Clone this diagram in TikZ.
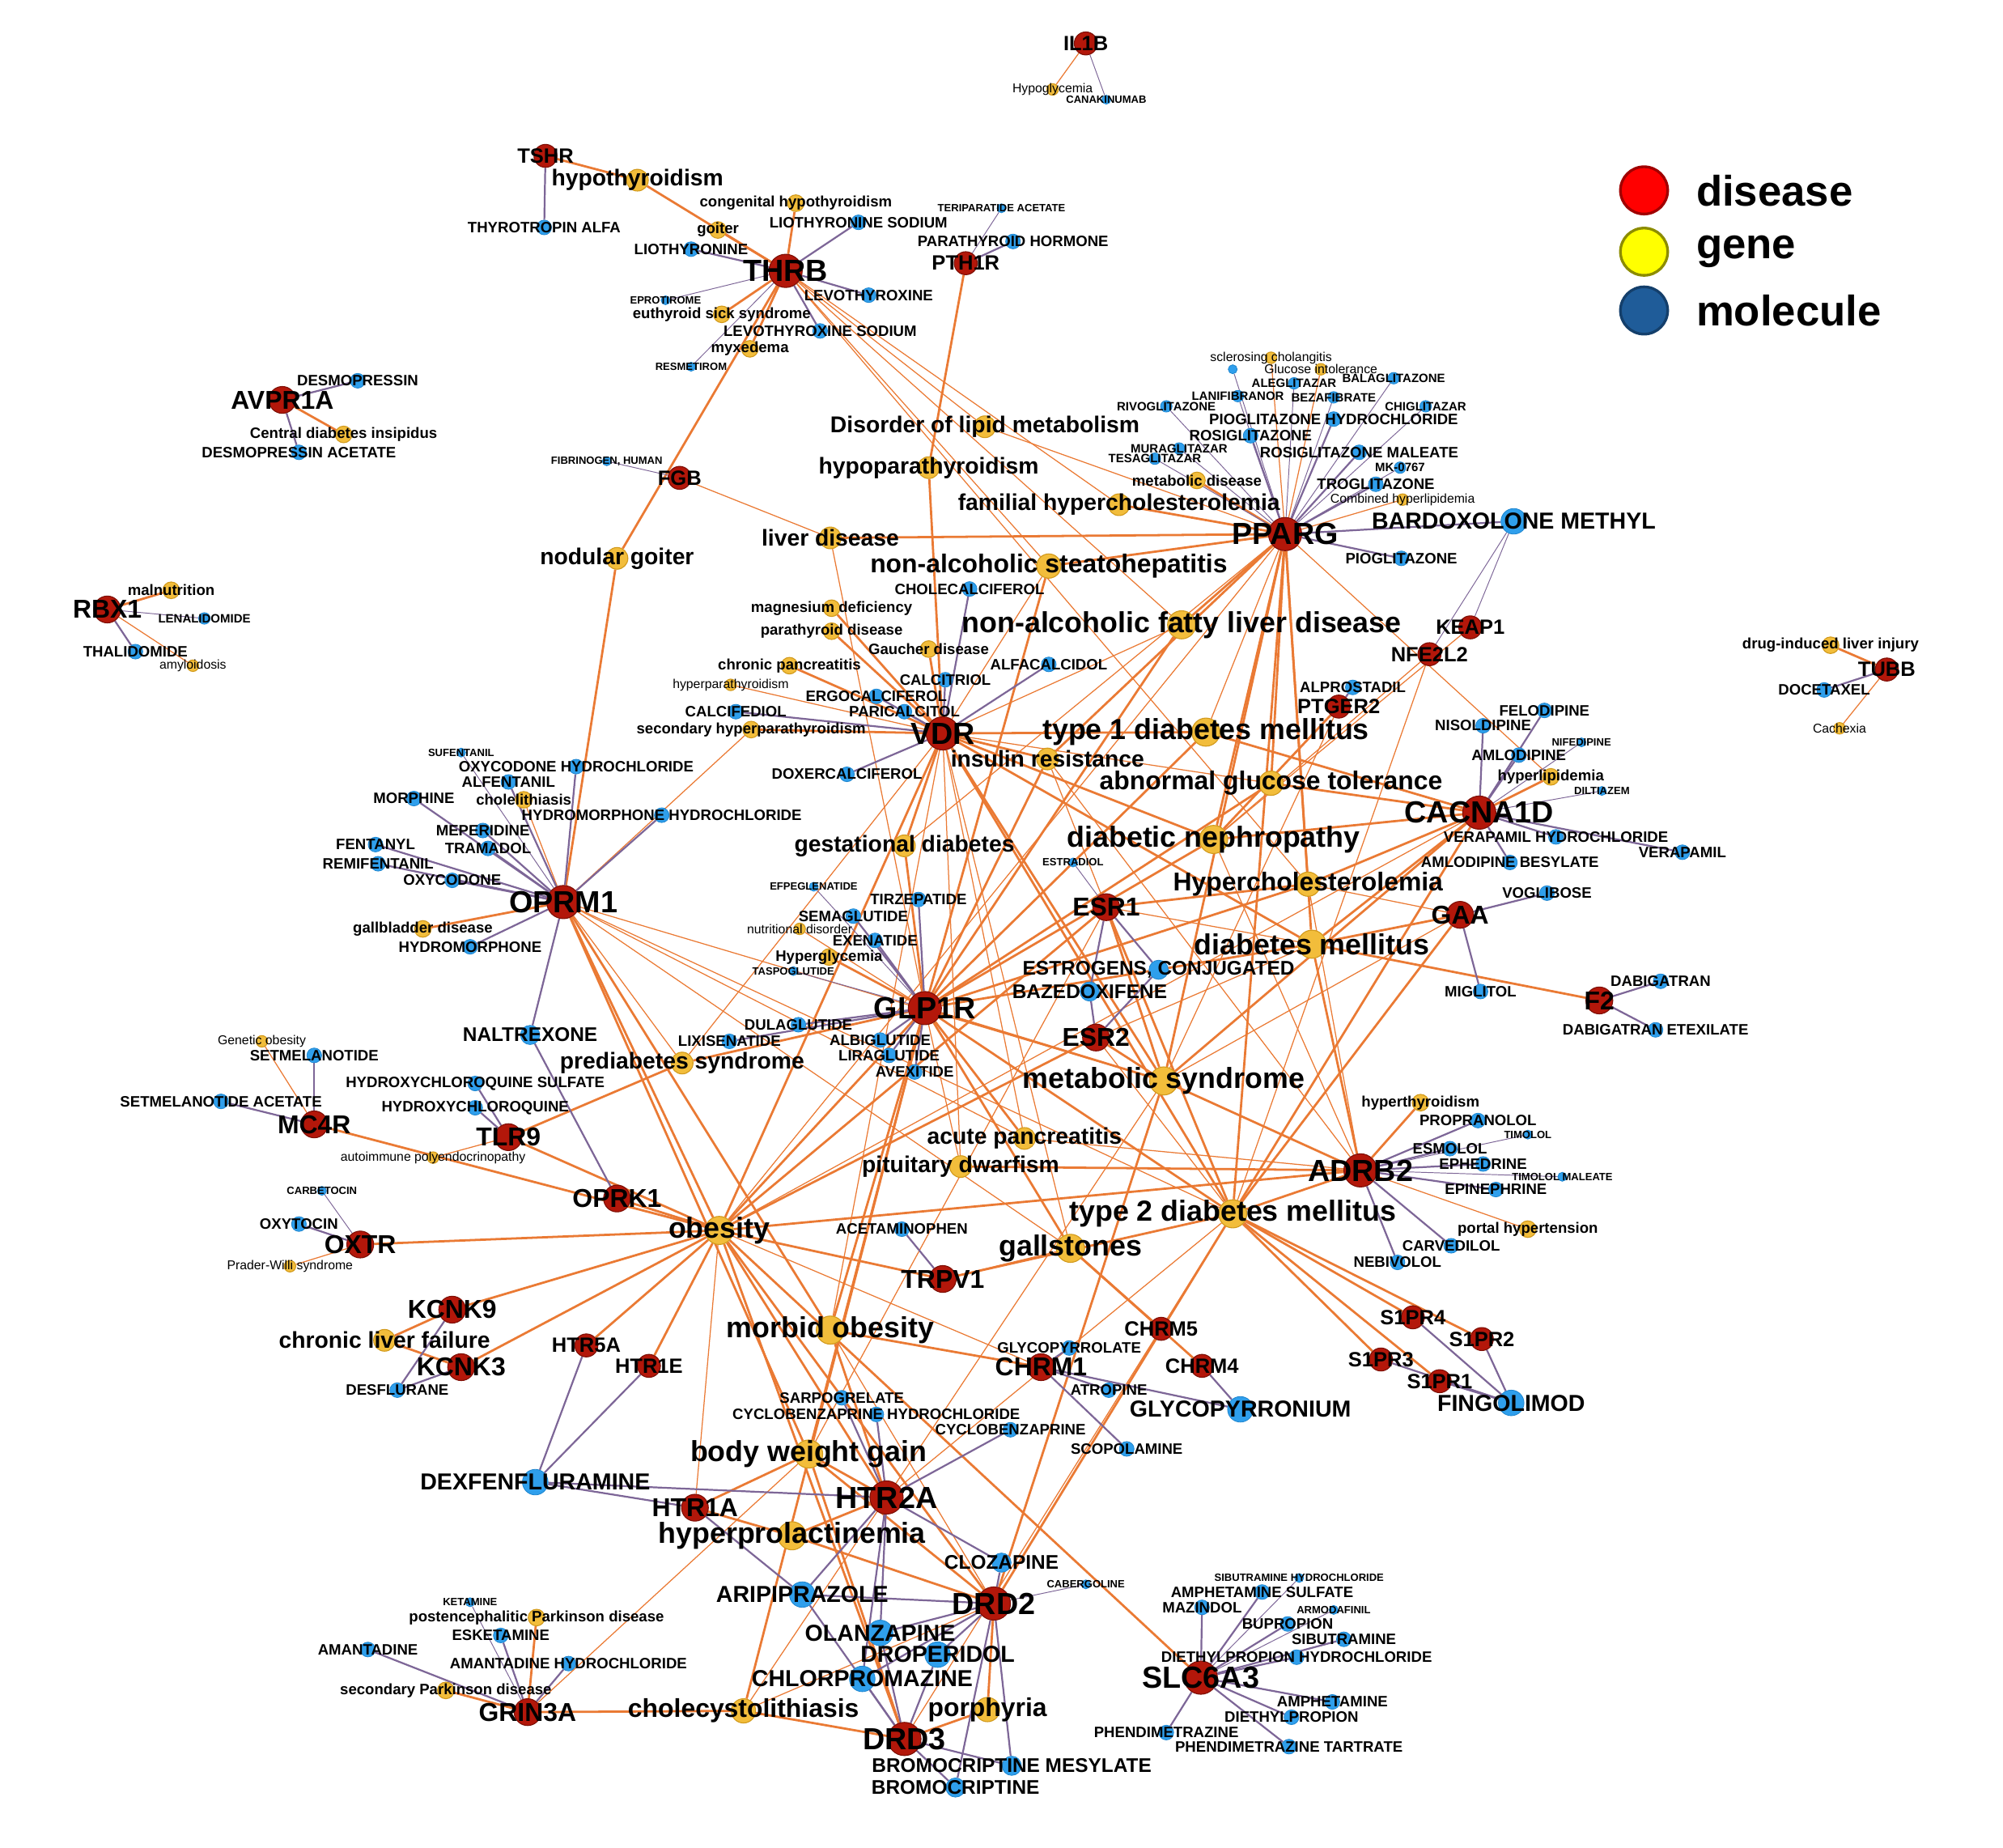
\documentclass[tikz,border=0pt]{standalone}
\usepackage{fontspec}
\setmainfont{Liberation Sans}
\usetikzlibrary{positioning,backgrounds}
\definecolor{discol}{HTML}{B3170A}
\definecolor{disline}{HTML}{7E0F05}
\definecolor{gencol}{HTML}{F2BD3B}
\definecolor{genline}{HTML}{D29A1C}
\definecolor{molcol}{HTML}{2F9FEC}
\definecolor{molline}{HTML}{1F86CF}
\definecolor{dgcol}{HTML}{EA7A34}
\definecolor{dmcol}{HTML}{7D6697}
\definecolor{legred}{HTML}{FF0000}
\definecolor{legredline}{HTML}{A00000}
\definecolor{legyel}{HTML}{FFFF00}
\definecolor{legyelline}{HTML}{8C8C00}
\definecolor{legblu}{HTML}{1F5C99}
\definecolor{legbluline}{HTML}{143F6B}
\tikzset{
  disease/.style={circle, inner sep=0pt, fill=discol, draw=disline, line width=0.4pt},
  gene/.style={circle, inner sep=0pt, fill=gencol, draw=genline, line width=0.4pt},
  molecule/.style={circle, inner sep=0pt, fill=molcol, draw=molline, line width=0.3pt},
  tXL/.style={font=\bfseries\fontsize{13.6}{16}\selectfont},
  tL/.style={font=\bfseries\fontsize{11.5}{13}\selectfont},
  tM/.style={font=\bfseries\fontsize{9.2}{11}\selectfont},
  tgXL/.style={font=\bfseries\fontsize{12.9}{15}\selectfont},
  tgL/.style={font=\bfseries\fontsize{11.5}{13}\selectfont},
  tgM/.style={font=\bfseries\fontsize{10.2}{12}\selectfont},
  tgS/.style={font=\bfseries\fontsize{6.7}{8}\selectfont},
  tgXS/.style={font=\fontsize{5.7}{7}\selectfont},
  tmXL/.style={font=\bfseries\fontsize{10.3}{12}\selectfont},
  tmL/.style={font=\bfseries\fontsize{8.8}{10}\selectfont},
  tmM/.style={font=\bfseries\fontsize{6.7}{8}\selectfont},
  tmS/.style={font=\bfseries\fontsize{5.4}{6}\selectfont},
  tmXS/.style={font=\bfseries\fontsize{4.7}{5}\selectfont},
  dXL/.style={disease, minimum size=5.2mm, label={[tXL]center:{#1}}},
  dL/.style={disease, minimum size=4.2mm, label={[tL]center:{#1}}},
  dM/.style={disease, minimum size=3.6mm, label={[tM]center:{#1}}},
  gXL/.style={gene, minimum size=4.4mm, label={[tgXL]center:{#1}}},
  gL/.style={gene, minimum size=3.8mm, label={[tgL]center:{#1}}},
  gM/.style={gene, minimum size=3.4mm, label={[tgM]center:{#1}}},
  gS/.style={gene, minimum size=2.6mm, label={[tgS]center:{#1}}},
  gXS/.style={gene, minimum size=1.8mm, label={[tgXS]center:{#1}}},
  mXL/.style={molecule, minimum size=4mm, label={[tmXL]center:{#1}}},
  mL/.style={molecule, minimum size=3mm, label={[tmL]center:{#1}}},
  mM/.style={molecule, minimum size=2.3mm, label={[tmM]center:{#1}}},
  mS/.style={molecule, minimum size=1.8mm, label={[tmS]center:{#1}}},
  mXS/.style={molecule, minimum size=1.4mm, label={[tmXS]center:{#1}}},
  dglink/.style={dgcol, line width=1pt},
  dglinkthin/.style={dgcol, line width=0.45pt},
  dmlink/.style={dmcol, line width=0.8pt},
  dmlinkthin/.style={dmcol, line width=0.35pt},
  legdot/.style={circle, minimum size=7.4mm, inner sep=0pt, line width=1.2pt},
  legtxt/.style={font=\bfseries\fontsize{19}{22}\selectfont, inner sep=0pt, anchor=west}
}

\begin{document}
\begin{tikzpicture}[x=0.2mm, y=-0.2mm]
	\useasboundingbox (0,0) rectangle (1568,1446);
	% Paths, nodes and wires:
	\node[dXL=THRB] (thrb) at (615,212) {};
	\node[dXL=PPARG] (pparg) at (1006,418) {};
	\node[dXL=VDR] (vdr) at (738,574) {};
	\node[dXL=GLP1R] (glp1r) at (724,789) {};
	\node[dXL=OPRM1] (oprm1) at (441,706) {};
	\node[dXL=HTR2A] (htr2a) at (694,1172) {};
	\node[dXL=DRD2] (drd2) at (778,1255) {};
	\node[dXL=DRD3] (drd3) at (708,1361) {};
	\node[dXL=SLC6A3] (slc6a3) at (940,1313) {};
	\node[dXL=ADRB2] (adrb2) at (1065,916) {};
	\node[dXL=CACNA1D] (cacna1d) at (1158,636) {};
	\node[dL=CHRM1] (chrm1) at (815,1070) {};
	\node[dL=GRIN3A] (grin3a) at (413,1340) {};
	\node[dL=AVPR1A] (avpr1a) at (221,313) {};
	\node[dL=RBX1] (rbx1) at (84,477) {};
	\node[dL=ESR1] (esr1) at (866,710) {};
	\node[dL=ESR2] (esr2) at (858,812) {};
	\node[dL=GAA] (gaa) at (1143,716) {};
	\node[dL=TLR9] (tlr9) at (398,890) {};
	\node[dL=HTR1A] (htr1a) at (544,1180) {};
	\node[dL=OXTR] (oxtr) at (282,974) {};
	\node[dL=KCNK9] (kcnk9) at (354,1025) {};
	\node[dL=KCNK3] (kcnk3) at (361,1070) {};
	\node[dL=TRPV1] (trpv1) at (738,1001) {};
	\node[dL=OPRK1] (oprk1) at (483,938) {};
	\node[dL=MC4R] (mc4r) at (246,880) {};
	\node[dL=F2] (f2) at (1252,783) {};
	\node[dM=TSHR] (tshr) at (427,122) {};
	\node[dM=PTH1R] (pth1r) at (756,206) {};
	\node[dM=FGB] (fgb) at (532,374) {};
	\node[dM=TUBB] (tubb) at (1477,524) {};
	\node[dM=CHRM5] (chrm5) at (909,1040) {};
	\node[dM=CHRM4] (chrm4) at (941,1069) {};
	\node[dM=S1PR4] (s1pr4) at (1106,1031) {};
	\node[dM=S1PR2] (s1pr2) at (1160,1048) {};
	\node[dM=S1PR3] (s1pr3) at (1081,1064) {};
	\node[dM=S1PR1] (s1pr1) at (1127,1081) {};
	\node[dM=HTR5A] (htr5a) at (459,1053) {};
	\node[dM=HTR1E] (htr1e) at (508,1069) {};
	\node[dM=KEAP1] (keap1) at (1151,491) {};
	\node[dM=NFE2L2] (nfe2l2) at (1119,512) {};
	\node[dM=PTGER2] (ptger2) at (1048,553) {};
	\node[dM=IL1B] (il1b) at (850,34) {};
	% yellow
	\node[gXL=obesity] (obesity) at (563,963) {};
	\node[gXL=type 2 diabetes mellitus] (t2dm) at (965,950) {};
	\node[gXL=metabolic syndrome] (metsyn) at (911,846) {};
	\node[gXL=diabetes mellitus] (dm) at (1027,739) {};
	\node[gXL=morbid obesity] (morbid) at (650,1041) {};
	\node[gXL=body weight gain] (bwg) at (633,1138) {};
	\node[gXL=hyperprolactinemia] (hyperprl) at (620,1202) {};
	\node[gXL=gallstones] (gallst) at (838,977) {};
	\node[gXL=diabetic nephropathy] (dnephro) at (950,657) {};
	\node[gXL=non-alcoholic fatty liver disease] (nafld) at (925,489) {};
	\node[gXL=type 1 diabetes mellitus] (t1dm) at (944,573) {};
	\node[gL=Hypercholesterolemia] (hchol) at (1024,692) {};
	\node[gL=abnormal glucose tolerance] (agt) at (995,613) {};
	\node[gL=non-alcoholic steatohepatitis] (nash) at (821,443) {};
	\node[gL=cholecystolithiasis] (cholecys) at (582,1339) {};
	\node[gL=porphyria] (porph) at (773,1338) {};
	\node[gM=insulin resistance] (insres) at (820,594) {};
	\node[gM=gestational diabetes] (gestdm) at (708,662) {};
	\node[gM=liver disease] (liverd) at (650,421) {};
	\node[gM=nodular goiter] (nodgoit) at (483,437) {};
	\node[gM=hypothyroidism] (hypothy) at (499,141) {};
	\node[gM=Disorder of lipid metabolism] (lipmet) at (771,334) {};
	\node[gM=hypoparathyroidism] (hypopara) at (727,366) {};
	\node[gM=familial hypercholesterolemia] (famhc) at (876,395) {};
	\node[gM=acute pancreatitis] (acpanc) at (802,891) {};
	\node[gM=pituitary dwarfism] (pitdw) at (752,913) {};
	\node[gM=prediabetes syndrome] (prediab) at (534,832) {};
	\node[gM=chronic liver failure] (chrliv) at (301,1049) {};
	\node[gS=congenital hypothyroidism] (conghypo) at (623,159) {};
	\node[gS=goiter] (goiter) at (562,180) {};
	\node[gS=euthyroid sick syndrome] (euthy) at (565,246) {};
	\node[gS=myxedema] (myxed) at (587,273) {};
	\node[gS=magnesium deficiency] (mgdef) at (651,476) {};
	\node[gS=parathyroid disease] (parad) at (651,494) {};
	\node[gS=Gaucher disease] (gaucher) at (727,508) {};
	\node[gS=chronic pancreatitis] (chrpanc) at (618,521) {};
	\node[gS=secondary hyperparathyroidism] (sechpt) at (588,571) {};
	\node[gS=metabolic disease] (metdis) at (937,376) {};
	\node[gS=gallbladder disease] (gallbl) at (331,727) {};
	\node[gS=cholelithiasis] (cholelit) at (410,626) {};
	\node[gS=Central diabetes insipidus] (cdi) at (269,340) {};
	\node[gS=malnutrition] (malnut) at (134,462) {};
	\node[gS=hyperlipidemia] (hyperlip) at (1214,608) {};
	\node[gS=drug-induced liver injury] (dili) at (1433,505) {};
	\node[gS=hyperthyroidism] (hyperthy) at (1112,863) {};
	\node[gS=portal hypertension] (porthyp) at (1196,962) {};
	\node[gS=Hyperglycemia] (hypergly) at (649,749) {};
	\node[gS=postencephalitic Parkinson disease] (postpd) at (420,1266) {};
	\node[gS=secondary Parkinson disease] (secpd) at (349,1323) {};
	\node[gXS=Hypoglycemia] (hypogly) at (824,70) {};
	\node[gXS=amyloidosis] (amyl) at (151,521) {};
	\node[gXS=hyperparathyroidism] (hyperpara) at (572,536) {};
	\node[gXS=nutritional disorder] (nutdis) at (626,727) {};
	\node[gXS=sclerosing cholangitis] (sclch) at (995,280) {};
	\node[gXS=Glucose intolerance] (glucint) at (1034,289) {};
	\node[gXS=Combined hyperlipidemia] (combhl) at (1098,391) {};
	\node[gXS=Genetic obesity] (genob) at (205,815) {};
	\node[gXS=autoimmune polyendocrinopathy] (autoimm) at (339,906) {};
	\node[gXS=Prader-Willi syndrome] (prader) at (227,991) {};
	\node[gXS=Cachexia] (cachex) at (1440,570) {};
	% blue
	\node[mXL=BARDOXOLONE METHYL] (bardox) at (1185,408) {};
	\node[mXL=GLYCOPYRRONIUM] (glycopy) at (971,1103) {};
	\node[mXL=FINGOLIMOD] (fingo) at (1183,1098) {};
	\node[mXL=DEXFENFLURAMINE] (dexfen) at (419,1160) {};
	\node[mXL=ARIPIPRAZOLE] (aripip) at (628,1248) {};
	\node[mXL=DROPERIDOL] (droper) at (734,1295) {};
	\node[mXL=CHLORPROMAZINE] (chlorpr) at (675,1314) {};
	\node[mXL=OLANZAPINE] (olanz) at (689,1278) {};
	\node[mL=NALTREXONE] (naltrex) at (415,810) {};
	\node[mL={ESTROGENS, CONJUGATED}] (estrog) at (907,759) {};
	\node[mL=BAZEDOXIFENE] (bazedox) at (853,776) {};
	\node[mL=CLOZAPINE] (clozap) at (784,1223) {};
	\node[mL=BROMOCRIPTINE MESYLATE] (bromm) at (792,1382) {};
	\node[mL=BROMOCRIPTINE] (brom) at (748,1399) {};
	\node[mM=THYROTROPIN ALFA] (thyrotr) at (426,178) {};
	\node[mM=LIOTHYRONINE SODIUM] (liosod) at (672,174) {};
	\node[mM=LIOTHYRONINE] (lio) at (541,195) {};
	\node[mM=PARATHYROID HORMONE] (pth) at (793,189) {};
	\node[mM=LEVOTHYROXINE] (levo) at (680,231) {};
	\node[mM=LEVOTHYROXINE SODIUM] (levosod) at (642,259) {};
	\node[mM=DESMOPRESSIN] (desmo) at (280,298) {};
	\node[mM=DESMOPRESSIN ACETATE] (desmoac) at (234,354) {};
	\node[mM=THALIDOMIDE] (thalid) at (106,510) {};
	\node[mM=PIOGLITAZONE HYDROCHLORIDE] (piohcl) at (1044,328) {};
	\node[mM=ROSIGLITAZONE] (rosi) at (979,341) {};
	\node[mM=ROSIGLITAZONE MALEATE] (rosimal) at (1064,354) {};
	\node[mM=TROGLITAZONE] (troglit) at (1077,379) {};
	\node[mM=PIOGLITAZONE] (pio) at (1097,437) {};
	\node[mM=DOCETAXEL] (docet) at (1428,540) {};
	\node[mM=CHOLECALCIFEROL] (cholecal) at (759,461) {};
	\node[mM=ALFACALCIDOL] (alfacal) at (821,520) {};
	\node[mM=CALCITRIOL] (calcitr) at (740,532) {};
	\node[mM=ERGOCALCIFEROL] (ergocal) at (686,545) {};
	\node[mM=CALCIFEDIOL] (calcifed) at (576,557) {};
	\node[mM=PARICALCITOL] (parical) at (708,557) {};
	\node[mM=DOXERCALCIFEROL] (doxercal) at (663,606) {};
	\node[mM=ALPROSTADIL] (alprost) at (1059,538) {};
	\node[mM=FELODIPINE] (felod) at (1209,556) {};
	\node[mM=NISOLDIPINE] (nisold) at (1161,568) {};
	\node[mM=AMLODIPINE] (amlod) at (1189,591) {};
	\node[mM=VERAPAMIL HYDROCHLORIDE] (verahcl) at (1218,655) {};
	\node[mM=VERAPAMIL] (verap) at (1317,667) {};
	\node[mM=AMLODIPINE BESYLATE] (amlobes) at (1182,675) {};
	\node[mM=VOGLIBOSE] (voglib) at (1211,699) {};
	\node[mM=MIGLITOL] (miglit) at (1159,776) {};
	\node[mM=DABIGATRAN] (dabig) at (1300,768) {};
	\node[mM=DABIGATRAN ETEXILATE] (dabigete) at (1296,806) {};
	\node[mM=OXYCODONE HYDROCHLORIDE] (oxyhcl) at (451,600) {};
	\node[mM=ALFENTANIL] (alfent) at (398,612) {};
	\node[mM=MORPHINE] (morph) at (324,625) {};
	\node[mM=HYDROMORPHONE HYDROCHLORIDE] (hydrohcl) at (518,638) {};
	\node[mM=MEPERIDINE] (meper) at (378,650) {};
	\node[mM=TRAMADOL] (tramad) at (382,664) {};
	\node[mM=FENTANYL] (fentan) at (294,661) {};
	\node[mM=REMIFENTANIL] (remif) at (296,676) {};
	\node[mM=OXYCODONE] (oxycod) at (354,689) {};
	\node[mM=HYDROMORPHONE] (hydrom) at (368,741) {};
	\node[mM=TIRZEPATIDE] (tirzep) at (719,704) {};
	\node[mM=SEMAGLUTIDE] (semag) at (668,717) {};
	\node[mM=EXENATIDE] (exen) at (685,736) {};
	\node[mM=DULAGLUTIDE] (dulag) at (625,802) {};
	\node[mM=LIXISENATIDE] (lixis) at (571,815) {};
	\node[mM=ALBIGLUTIDE] (albig) at (689,814) {};
	\node[mM=LIRAGLUTIDE] (lirag) at (696,826) {};
	\node[mM=AVEXITIDE] (avex) at (716,839) {};
	\node[mM=SETMELANOTIDE] (setmel) at (246,826) {};
	\node[mM=SETMELANOTIDE ACETATE] (setmelac) at (173,862) {};
	\node[mM=HYDROXYCHLOROQUINE SULFATE] (hcqs) at (372,848) {};
	\node[mM=HYDROXYCHLOROQUINE] (hcq) at (372,867) {};
	\node[mM=OXYTOCIN] (oxyto) at (234,958) {};
	\node[mM=DESFLURANE] (desflur) at (311,1088) {};
	\node[mM=ACETAMINOPHEN] (acetam) at (706,962) {};
	\node[mM=PROPRANOLOL] (propran) at (1157,877) {};
	\node[mM=ESMOLOL] (esmol) at (1135,899) {};
	\node[mM=EPHEDRINE] (ephed) at (1161,911) {};
	\node[mM=EPINEPHRINE] (epineph) at (1171,931) {};
	\node[mM=CARVEDILOL] (carved) at (1136,975) {};
	\node[mM=NEBIVOLOL] (nebiv) at (1094,988) {};
	\node[mM=GLYCOPYRROLATE] (glycorol) at (837,1055) {};
	\node[mM=ATROPINE] (atrop) at (868,1088) {};
	\node[mM=SARPOGRELATE] (sarpog) at (659,1094) {};
	\node[mM=CYCLOBENZAPRINE HYDROCHLORIDE] (cyclohcl) at (686,1107) {};
	\node[mM=CYCLOBENZAPRINE] (cyclob) at (791,1119) {};
	\node[mM=SCOPOLAMINE] (scopol) at (882,1134) {};
	\node[mM=ESKETAMINE] (esket) at (392,1280) {};
	\node[mM=AMANTADINE] (amant) at (288,1291) {};
	\node[mM=AMANTADINE HYDROCHLORIDE] (amanthcl) at (445,1302) {};
	\node[mM=AMPHETAMINE SULFATE] (amphsul) at (988,1246) {};
	\node[mM=MAZINDOL] (mazind) at (941,1258) {};
	\node[mM=BUPROPION] (bupro) at (1008,1271) {};
	\node[mM=SIBUTRAMINE] (sibut) at (1052,1283) {};
	\node[mM=DIETHYLPROPION HYDROCHLORIDE] (diethhcl) at (1015,1297) {};
	\node[mM=AMPHETAMINE] (amph) at (1043,1332) {};
	\node[mM=DIETHYLPROPION] (dieth) at (1011,1344) {};
	\node[mM=PHENDIMETRAZINE] (phend) at (913,1356) {};
	\node[mM=PHENDIMETRAZINE TARTRATE] (phendt) at (1009,1367) {};
	\node[mS=RIVOGLITAZONE] (rivog) at (913,318) {};
	\node[mS=LANIFIBRANOR] (lanif) at (969,310) {};
	\node[mS=ALEGLITAZAR] (alegl) at (1013,300) {};
	\node[mS=BALAGLITAZONE] (balagl) at (1091,296) {};
	\node[mS=BEZAFIBRATE] (bezaf) at (1044,311) {};
	\node[mS=CHIGLITAZAR] (chigl) at (1116,318) {};
	\node[mS=MURAGLITAZAR] (muragl) at (923,351) {};
	\node[mS=TESAGLITAZAR] (tesagl) at (904,359) {};
	\node[mS=MK-0767] (mk) at (1096,366) {};
	\node[mS=LENALIDOMIDE] (lenal) at (160,484) {};
	\node[mXS=TERIPARATIDE ACETATE] (teripar) at (784,163) {};
	\node[mXS=EPROTIROME] (eprot) at (521,235) {};
	\node[mXS=RESMETIROM] (resmet) at (541,287) {};
	\node[mXS={FIBRINOGEN, HUMAN}] (fibrin) at (475,361) {};
	\node[mXS=CANAKINUMAB] (canak) at (866,78) {};
	\node[mXS=SUFENTANIL] (sufent) at (361,589) {};
	\node[mXS=EFPEGLENATIDE] (efpeg) at (637,694) {};
	\node[mXS=TASPOGLUTIDE] (taspo) at (621,760) {};
	\node[mXS=ESTRADIOL] (estrad) at (840,675) {};
	\node[mXS=NIFEDIPINE] (nifed) at (1238,581) {};
	\node[mXS=DILTIAZEM] (diltia) at (1254,619) {};
	\node[mXS=TIMOLOL] (timol) at (1196,888) {};
	\node[mXS=TIMOLOL MALEATE] (timolm) at (1223,921) {};
	\node[mXS=CARBETOCIN] (carbet) at (252,932) {};
	\node[mXS=KETAMINE] (ketam) at (368,1254) {};
	\node[mXS=CABERGOLINE] (caberg) at (850,1240) {};
	\node[mXS=SIBUTRAMINE HYDROCHLORIDE] (sibuthcl) at (1017,1235) {};
	\node[mXS=ARMODAFINIL] (armod) at (1044,1260) {};
	\node[mXS=] (ppx) at (965,289) {};
	% legend
	\node[legdot, fill=legred, draw=legredline] (legdis) at (1287,149) {};
	\node[legtxt, right=4.2mm of legdis] (legdist) {disease};
	\node[legdot, fill=legyel, draw=legyelline] (leggen) at (1287,197) {};
	\node[legtxt, right=4.2mm of leggen] (leggent) {gene};
	\node[legdot, fill=legblu, draw=legbluline] (legmol) at (1287,243) {};
	\node[legtxt, right=4.2mm of legmol] (legmolt) {molecule};
	% links
	\begin{scope}[on background layer]
	\foreach \src/\dst in {il1b/hypogly, thrb/lipmet, thrb/famhc, thrb/nash, thrb/nafld, thrb/hchol,
		rbx1/amyl, fgb/liverd, tubb/cachex, pparg/sclch, pparg/glucint, pparg/combhl, pparg/lipmet,
		pparg/t1dm, pparg/obesity, pparg/gestdm, pparg/hyperlip, keap1/dnephro, nfe2l2/dnephro,
		nfe2l2/t2dm, ptger2/metsyn, vdr/hyperpara, vdr/nafld, vdr/nash, vdr/agt, vdr/prediab,
		vdr/pitdw, vdr/acpanc, vdr/morbid, vdr/gallst, cacna1d/obesity, gaa/hchol, gaa/metsyn,
		esr1/dm, esr1/insres, esr1/bwg, esr2/t2dm, esr2/dm, glp1r/nutdis, glp1r/liverd, glp1r/pitdw,
		oprm1/cholelit, oprm1/sechpt, oprm1/prediab, oprm1/metsyn, oprm1/t2dm, oprm1/acpanc,
		oprm1/gallst, mc4r/genob, tlr9/autoimm, oxtr/prader, htr1a/obesity, htr2a/metsyn,
		htr2a/t2dm, htr2a/cholecys, drd2/morbid, drd2/cholecys, drd3/t2dm, trpv1/gallst,
		adrb2/porthyp, adrb2/dnephro, adrb2/hchol, adrb2/acpanc, adrb2/insres, grin3a/bwg,
		chrm1/obesity}
		\draw[dglinkthin] (\src) -- (\dst);
	\foreach \src/\dst in {tshr/hypothy, thrb/hypothy, thrb/goiter, thrb/conghypo, thrb/euthy,
		thrb/myxed, thrb/nodgoit, pth1r/hypopara, avpr1a/cdi, rbx1/malnut, tubb/dili, pparg/metdis,
		pparg/famhc, pparg/liverd, pparg/nash, pparg/nafld, pparg/insres, pparg/agt, pparg/dnephro,
		pparg/hchol, pparg/dm, pparg/metsyn, pparg/t2dm, ptger2/dnephro, vdr/mgdef, vdr/parad,
		vdr/gaucher, vdr/chrpanc, vdr/sechpt, vdr/t1dm, vdr/insres, vdr/hypopara, vdr/gestdm,
		vdr/obesity, vdr/metsyn, vdr/t2dm, vdr/dm, vdr/dnephro, cacna1d/hyperlip, cacna1d/agt,
		cacna1d/hchol, cacna1d/dnephro, cacna1d/dm, cacna1d/t2dm, cacna1d/metsyn, cacna1d/t1dm,
		gaa/dm, gaa/t2dm, f2/dm, esr1/hchol, esr1/obesity, esr1/metsyn, esr1/t2dm, esr2/obesity,
		esr2/metsyn, glp1r/hypergly, glp1r/obesity, glp1r/t2dm, glp1r/metsyn, glp1r/prediab,
		glp1r/dm, glp1r/agt, glp1r/dnephro, glp1r/hchol, glp1r/insres, glp1r/t1dm, glp1r/nafld,
		glp1r/nash, glp1r/gestdm, glp1r/morbid, glp1r/bwg, glp1r/acpanc, glp1r/gallst,
		glp1r/cholecys, oprm1/gallbl, oprm1/nodgoit, oprm1/obesity, oprm1/morbid, oprm1/bwg,
		oprk1/obesity, mc4r/obesity, tlr9/prediab, tlr9/obesity, oxtr/obesity, kcnk9/obesity,
		kcnk9/chrliv, kcnk3/obesity, kcnk3/chrliv, htr5a/obesity, htr1e/obesity, htr1a/hyperprl,
		htr1a/bwg, htr2a/hyperprl, htr2a/bwg, htr2a/obesity, htr2a/morbid, drd2/hyperprl,
		drd2/porph, drd2/bwg, drd2/obesity, drd2/metsyn, drd2/t2dm, drd3/cholecys, drd3/porph,
		drd3/obesity, drd3/bwg, trpv1/obesity, trpv1/t2dm, chrm1/morbid, chrm5/gallst,
		chrm4/gallst, adrb2/hyperthy, adrb2/t2dm, adrb2/metsyn, adrb2/obesity, adrb2/dm,
		adrb2/pitdw, s1pr4/t2dm, s1pr2/t2dm, s1pr3/t2dm, s1pr1/t2dm, grin3a/postpd, grin3a/secpd,
		grin3a/cholecys, slc6a3/obesity}
		\draw[dglink] (\src) -- (\dst);
	\foreach \src/\dst in {il1b/canak, thrb/eprot, thrb/resmet, pth1r/teripar, rbx1/lenal,
		fgb/fibrin, pparg/rivog, pparg/lanif, pparg/alegl, pparg/balagl, pparg/bezaf, pparg/chigl,
		pparg/muragl, pparg/tesagl, pparg/mk, pparg/ppx, bardox/keap1, bardox/nfe2l2,
		cacna1d/nifed, cacna1d/diltia, esr1/estrad, glp1r/efpeg, glp1r/taspo, oprm1/sufent,
		oxtr/carbet, drd2/caberg, adrb2/timol, adrb2/timolm, grin3a/ketam, slc6a3/sibuthcl,
		slc6a3/armod}
		\draw[dmlinkthin] (\src) -- (\dst);
	\foreach \src/\dst in {tshr/thyrotr, thrb/liosod, thrb/lio, thrb/levo, thrb/levosod,
		pth1r/pth, avpr1a/desmo, avpr1a/desmoac, rbx1/thalid, tubb/docet, pparg/piohcl, pparg/rosi,
		pparg/rosimal, pparg/troglit, pparg/bardox, pparg/pio, vdr/cholecal, vdr/alfacal,
		vdr/calcitr, vdr/ergocal, vdr/calcifed, vdr/parical, vdr/doxercal, ptger2/alprost,
		cacna1d/felod, cacna1d/nisold, cacna1d/amlod, cacna1d/verahcl, cacna1d/verap,
		cacna1d/amlobes, gaa/voglib, gaa/miglit, f2/dabig, f2/dabigete, esr1/estrog,
		esr1/bazedox, esr2/estrog, esr2/bazedox, glp1r/tirzep, glp1r/semag, glp1r/exen,
		glp1r/dulag, glp1r/lixis, glp1r/albig, glp1r/lirag, glp1r/avex, oprm1/oxyhcl,
		oprm1/alfent, oprm1/morph, oprm1/hydrohcl, oprm1/meper, oprm1/tramad, oprm1/fentan,
		oprm1/remif, oprm1/oxycod, oprm1/hydrom, oprm1/naltrex, oprk1/naltrex, mc4r/setmel,
		mc4r/setmelac, tlr9/hcqs, tlr9/hcq, oxtr/oxyto, kcnk3/desflur, kcnk9/desflur,
		dexfen/htr5a, dexfen/htr1e, dexfen/htr1a, dexfen/htr2a, htr2a/sarpog, htr2a/cyclohcl,
		htr2a/cyclob, htr2a/aripip, htr2a/clozap, htr2a/olanz, htr2a/chlorpr, htr1a/aripip,
		drd2/clozap, drd2/aripip, drd2/olanz, drd2/droper, drd2/chlorpr, drd2/bromm, drd2/brom,
		drd3/aripip, drd3/olanz, drd3/chlorpr, drd3/droper, drd3/bromm, drd3/brom, trpv1/acetam,
		chrm1/glycorol, chrm1/atrop, chrm1/glycopy, chrm1/scopol, chrm4/glycopy, adrb2/propran,
		adrb2/esmol, adrb2/ephed, adrb2/epineph, adrb2/carved, adrb2/nebiv, s1pr1/fingo,
		s1pr2/fingo, s1pr3/fingo, s1pr4/fingo, grin3a/esket, grin3a/amant, grin3a/amanthcl,
		slc6a3/amphsul, slc6a3/mazind, slc6a3/bupro, slc6a3/sibut, slc6a3/diethhcl, slc6a3/amph,
		slc6a3/dieth, slc6a3/phend, slc6a3/phendt}
		\draw[dmlink] (\src) -- (\dst);
	\end{scope}
\end{tikzpicture}
\end{document}
